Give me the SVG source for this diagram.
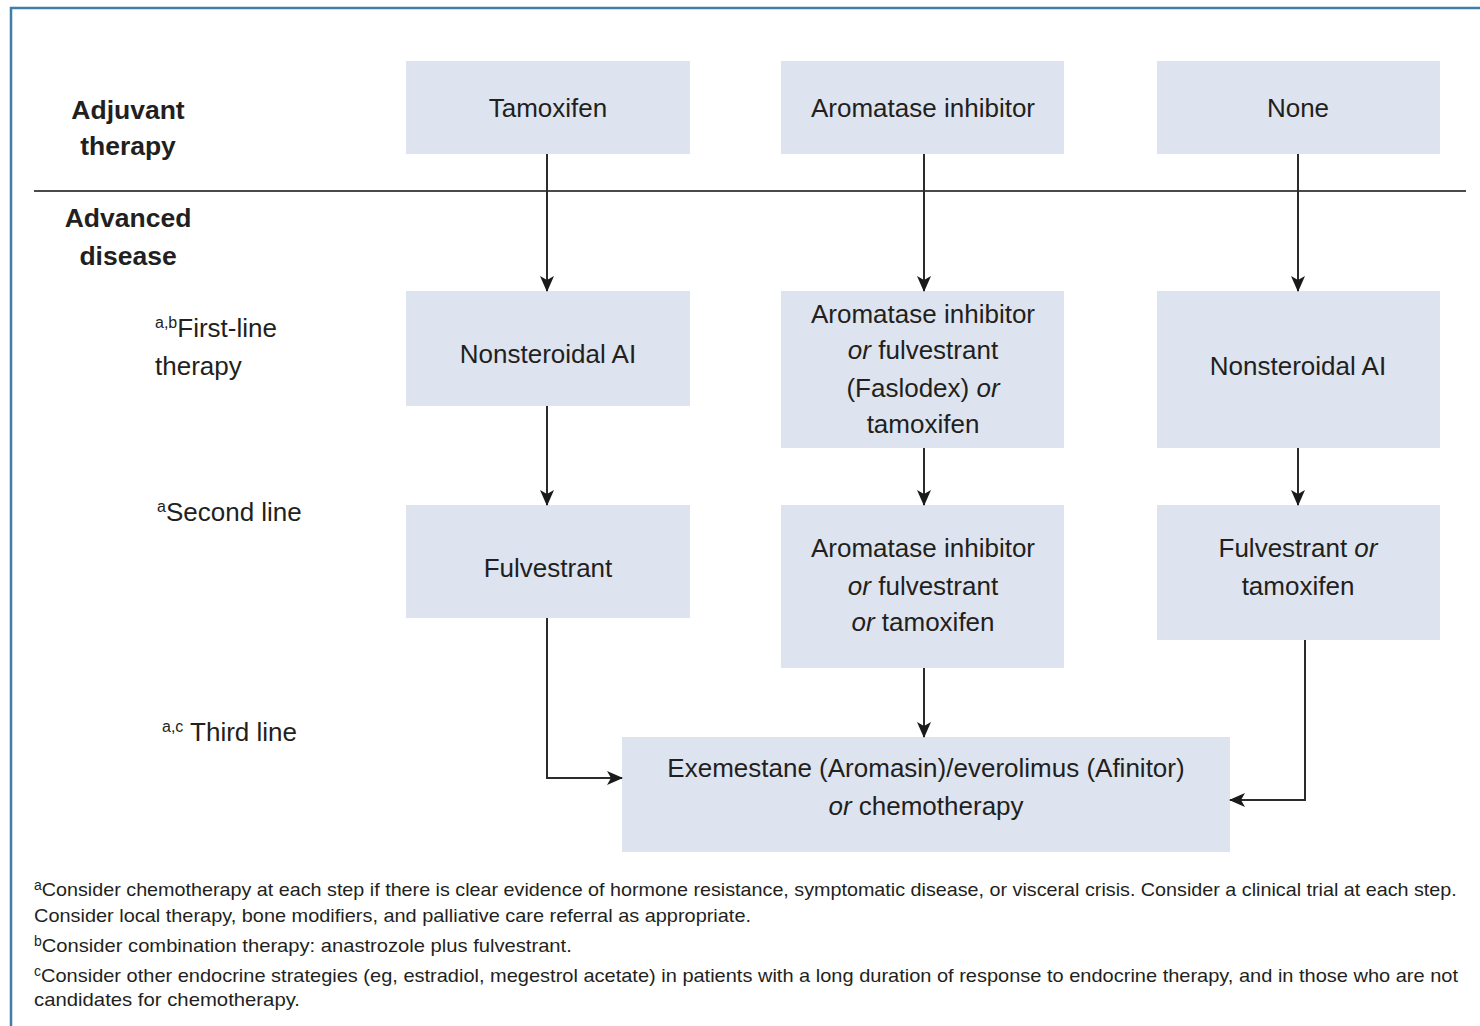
<svg xmlns="http://www.w3.org/2000/svg" width="1480" height="1026" viewBox="0 0 1480 1026">
<style>
.box{fill:#dde4ef}
.t{font-family:"Liberation Sans",Arial,sans-serif;font-size:26px;fill:#231f20;text-anchor:middle}
.h{font-family:"Liberation Sans",Arial,sans-serif;font-size:26.5px;font-weight:bold;fill:#231f20;text-anchor:middle}
.l{font-family:"Liberation Sans",Arial,sans-serif;font-size:26px;fill:#231f20}
.f{font-family:"Liberation Sans",Arial,sans-serif;font-size:19px;fill:#231f20}
.sup{font-size:16px}
.c{fill:none;stroke:#2b2b2b;stroke-width:2}
</style>
<defs>
<marker id="arr" markerWidth="16" markerHeight="14" refX="15" refY="7" orient="auto" markerUnits="userSpaceOnUse">
<path d="M0,0 L16,7 L0,14 L4,7 Z" fill="#1a1a1a"/>
</marker>
</defs>
<rect width="1480" height="1026" fill="#ffffff"/>
<path d="M11,1026 L11,8 L1480,8" fill="none" stroke="#3f7ea6" stroke-width="2.5"/>
<line x1="34" y1="191" x2="1466" y2="191" stroke="#4a4a4a" stroke-width="2"/>
<g id="labels">
<text class="h" x="128" y="119">Adjuvant</text>
<text class="h" x="128" y="155">therapy</text>
<text class="h" x="128" y="227">Advanced</text>
<text class="h" x="128" y="265">disease</text>
<text class="l" x="155" y="337"><tspan class="sup" dy="-9">a,b</tspan><tspan dy="9">First-line</tspan></text>
<text class="l" x="155" y="375">therapy</text>
<text class="l" x="157" y="521"><tspan class="sup" dy="-9">a</tspan><tspan dy="9">Second line</tspan></text>
<text class="l" x="162" y="741"><tspan class="sup" dy="-9">a,c</tspan><tspan dy="9"> Third line</tspan></text>
</g>
<g id="n-tamoxifen"><rect class="box" x="406" y="61" width="284" height="93"/><text class="t" x="548" y="117">Tamoxifen</text></g>
<g id="n-ai"><rect class="box" x="781" y="61" width="283" height="93"/><text class="t" x="923" y="117">Aromatase inhibitor</text></g>
<g id="n-none"><rect class="box" x="1157" y="61" width="283" height="93"/><text class="t" x="1298" y="117">None</text></g>
<g id="n-first-left"><rect class="box" x="406" y="291" width="284" height="115"/><text class="t" x="548" y="363">Nonsteroidal AI</text></g>
<g id="n-first-mid"><rect class="box" x="781" y="291" width="283" height="157"/>
<text class="t" x="923" y="323">Aromatase inhibitor</text>
<text class="t" x="923" y="359"><tspan font-style="italic">or</tspan> fulvestrant</text>
<text class="t" x="923" y="397">(Faslodex) <tspan font-style="italic">or</tspan></text>
<text class="t" x="923" y="433">tamoxifen</text></g>
<g id="n-first-right"><rect class="box" x="1157" y="291" width="283" height="157"/><text class="t" x="1298" y="375">Nonsteroidal AI</text></g>
<g id="n-second-left"><rect class="box" x="406" y="505" width="284" height="113"/><text class="t" x="548" y="577">Fulvestrant</text></g>
<g id="n-second-mid"><rect class="box" x="781" y="505" width="283" height="163"/>
<text class="t" x="923" y="557">Aromatase inhibitor</text>
<text class="t" x="923" y="595"><tspan font-style="italic">or</tspan> fulvestrant</text>
<text class="t" x="923" y="631"><tspan font-style="italic">or</tspan> tamoxifen</text></g>
<g id="n-second-right"><rect class="box" x="1157" y="505" width="283" height="135"/>
<text class="t" x="1298" y="557">Fulvestrant <tspan font-style="italic">or</tspan></text>
<text class="t" x="1298" y="595">tamoxifen</text></g>
<g id="n-third"><rect class="box" x="622" y="737" width="608" height="115"/>
<text class="t" x="926" y="777">Exemestane (Aromasin)/everolimus (Afinitor)</text>
<text class="t" x="926" y="815"><tspan font-style="italic">or</tspan> chemotherapy</text></g>
<g id="connectors">
<line class="c" x1="547" y1="154" x2="547" y2="291" marker-end="url(#arr)"/>
<line class="c" x1="924" y1="154" x2="924" y2="291" marker-end="url(#arr)"/>
<line class="c" x1="1298" y1="154" x2="1298" y2="291" marker-end="url(#arr)"/>
<line class="c" x1="547" y1="406" x2="547" y2="505" marker-end="url(#arr)"/>
<line class="c" x1="924" y1="448" x2="924" y2="505" marker-end="url(#arr)"/>
<line class="c" x1="1298" y1="448" x2="1298" y2="505" marker-end="url(#arr)"/>
<polyline class="c" points="547,618 547,778 622,778" marker-end="url(#arr)"/>
<line class="c" x1="924" y1="668" x2="924" y2="737" marker-end="url(#arr)"/>
<polyline class="c" points="1305,640 1305,800 1230,800" marker-end="url(#arr)"/>
</g>
<g id="footnotes">
<text class="f" x="34" y="896"><tspan font-size="14" dy="-6">a</tspan><tspan dy="6" textLength="1415" lengthAdjust="spacingAndGlyphs">Consider chemotherapy at each step if there is clear evidence of hormone resistance, symptomatic disease, or visceral crisis. Consider a clinical trial at each step.</tspan></text>
<text class="f" x="34" y="922" textLength="717" lengthAdjust="spacingAndGlyphs">Consider local therapy, bone modifiers, and palliative care referral as appropriate.</text>
<text class="f" x="34" y="952"><tspan font-size="14" dy="-6">b</tspan><tspan dy="6" textLength="530" lengthAdjust="spacingAndGlyphs">Consider combination therapy: anastrozole plus fulvestrant.</tspan></text>
<text class="f" x="34" y="982"><tspan font-size="14" dy="-6">c</tspan><tspan dy="6" textLength="1417" lengthAdjust="spacingAndGlyphs">Consider other endocrine strategies (eg, estradiol, megestrol acetate) in patients with a long duration of response to endocrine therapy, and in those who are not</tspan></text>
<text class="f" x="34" y="1006" textLength="266" lengthAdjust="spacingAndGlyphs">candidates for chemotherapy.</text>
</g>
</svg>
